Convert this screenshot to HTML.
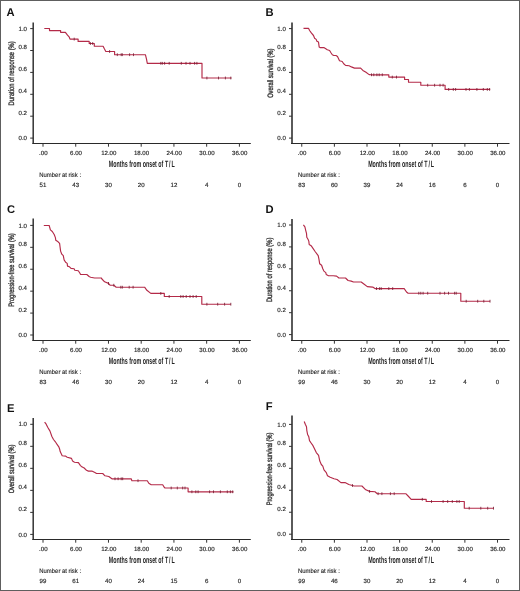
<!DOCTYPE html><html><head><meta charset="utf-8"><style>html,body{margin:0;padding:0;background:#fff;}svg{display:block;will-change:transform;}</style></head><body>
<svg width="520" height="591" viewBox="0 0 520 591" font-family='"Liberation Sans", sans-serif' text-rendering="geometricPrecision">
<rect x="0" y="0" width="520" height="591" fill="#fff"/>
<rect x="0.5" y="0.5" width="519" height="590" fill="none" stroke="#5e5e5e" stroke-width="1"/>
<g><text x="6.6" y="16" font-size="11.2" font-weight="bold" fill="#111">A</text><line x1="33.2" y1="22.4" x2="33.2" y2="144.1" stroke="#333" stroke-width="1.5"/><line x1="32.45" y1="143.5" x2="250.8" y2="143.5" stroke="#2a2a2a" stroke-width="1.2"/><line x1="30.2" y1="28.6" x2="33.2" y2="28.6" stroke="#333" stroke-width="1"/><text x="27" y="30.75" font-size="6.1" fill="#222" stroke="#222" stroke-width="0.14" text-anchor="end">1.0</text><line x1="30.2" y1="50.5" x2="33.2" y2="50.5" stroke="#333" stroke-width="1"/><text x="27" y="49.35" font-size="6.1" fill="#222" stroke="#222" stroke-width="0.14" text-anchor="end">0.8</text><line x1="30.2" y1="72.4" x2="33.2" y2="72.4" stroke="#333" stroke-width="1"/><text x="27" y="71.25" font-size="6.1" fill="#222" stroke="#222" stroke-width="0.14" text-anchor="end">0.6</text><line x1="30.2" y1="94.3" x2="33.2" y2="94.3" stroke="#333" stroke-width="1"/><text x="27" y="93.15" font-size="6.1" fill="#222" stroke="#222" stroke-width="0.14" text-anchor="end">0.4</text><line x1="30.2" y1="116.2" x2="33.2" y2="116.2" stroke="#333" stroke-width="1"/><text x="27" y="115.05" font-size="6.1" fill="#222" stroke="#222" stroke-width="0.14" text-anchor="end">0.2</text><line x1="30.2" y1="138.1" x2="33.2" y2="138.1" stroke="#333" stroke-width="1"/><text x="27" y="140.25" font-size="6.1" fill="#222" stroke="#222" stroke-width="0.14" text-anchor="end">0.0</text><line x1="43" y1="143.5" x2="43" y2="146.7" stroke="#333" stroke-width="1"/><text x="43.3" y="154.9" font-size="6.1" fill="#222" stroke="#222" stroke-width="0.14" text-anchor="middle">.00</text><text x="43" y="187.1" font-size="6.1" fill="#222" stroke="#222" stroke-width="0.14" text-anchor="middle">51</text><line x1="75.73" y1="143.5" x2="75.73" y2="146.7" stroke="#333" stroke-width="1"/><text x="76.03" y="154.9" font-size="6.1" fill="#222" stroke="#222" stroke-width="0.14" text-anchor="middle">6.00</text><text x="75.73" y="187.1" font-size="6.1" fill="#222" stroke="#222" stroke-width="0.14" text-anchor="middle">43</text><line x1="108.47" y1="143.5" x2="108.47" y2="146.7" stroke="#333" stroke-width="1"/><text x="108.77" y="154.9" font-size="6.1" fill="#222" stroke="#222" stroke-width="0.14" text-anchor="middle">12.00</text><text x="108.47" y="187.1" font-size="6.1" fill="#222" stroke="#222" stroke-width="0.14" text-anchor="middle">30</text><line x1="141.2" y1="143.5" x2="141.2" y2="146.7" stroke="#333" stroke-width="1"/><text x="141.5" y="154.9" font-size="6.1" fill="#222" stroke="#222" stroke-width="0.14" text-anchor="middle">18.00</text><text x="141.2" y="187.1" font-size="6.1" fill="#222" stroke="#222" stroke-width="0.14" text-anchor="middle">20</text><line x1="173.93" y1="143.5" x2="173.93" y2="146.7" stroke="#333" stroke-width="1"/><text x="174.23" y="154.9" font-size="6.1" fill="#222" stroke="#222" stroke-width="0.14" text-anchor="middle">24.00</text><text x="173.93" y="187.1" font-size="6.1" fill="#222" stroke="#222" stroke-width="0.14" text-anchor="middle">12</text><line x1="206.67" y1="143.5" x2="206.67" y2="146.7" stroke="#333" stroke-width="1"/><text x="206.97" y="154.9" font-size="6.1" fill="#222" stroke="#222" stroke-width="0.14" text-anchor="middle">30.00</text><text x="206.67" y="187.1" font-size="6.1" fill="#222" stroke="#222" stroke-width="0.14" text-anchor="middle">4</text><line x1="239.4" y1="143.5" x2="239.4" y2="146.7" stroke="#333" stroke-width="1"/><text x="239.7" y="154.9" font-size="6.1" fill="#222" stroke="#222" stroke-width="0.14" text-anchor="middle">36.00</text><text x="239.4" y="187.1" font-size="6.1" fill="#222" stroke="#222" stroke-width="0.14" text-anchor="middle">0</text><text transform="translate(141.8 167.1) scale(0.587 1)" x="0" y="0" font-size="9.1" font-weight="bold" fill="#222" text-anchor="middle">Months from onset of T<tspan dx="1.6">/</tspan><tspan dx="1.6">L</tspan></text><text x="39.3" y="177.3" font-size="6.3" fill="#222" stroke="#222" stroke-width="0.12" textLength="41.8" lengthAdjust="spacingAndGlyphs">Number at risk :</text><text transform="translate(13.6 73.4) rotate(-90)" x="0" y="0" font-size="7.9" fill="#333" stroke="#333" stroke-width="0.35" text-anchor="middle" textLength="64" lengthAdjust="spacingAndGlyphs">Duration of response (%)</text><path d="M44.3,28.5 H49.5 V30.6 H60.6 V32.3 H65.4 L67.5,35.2 L69.3,37.2 L70,39.1 H78.1 V41.4 H89.2 V43.5 H94.3 V46.2 H103.1 L104.5,49.1 L105.8,51.5 H114.6 V54.7 H145.4 L146.5,59.2 L147.3,63.3 H202 V78 H231.5" fill="none" stroke="#b42a48" stroke-width="1.15" stroke-linejoin="round"/><path d="M74.2,37.7V40.5M90.4,42.1V44.9M92.7,42.1V44.9M109.6,50.1V52.9M117.3,53.3V56.1M121.2,53.3V56.1M122.3,53.3V56.1M129.6,53.3V56.1M133.5,53.3V56.1M160.8,61.9V64.7M162.3,61.9V64.7M164.6,61.9V64.7M169.2,61.9V64.7M181.3,61.9V64.7M186,61.9V64.7M190,61.9V64.7M194.6,61.9V64.7M196.9,61.9V64.7M206.9,76.6V79.4M218.5,76.6V79.4M225.4,76.6V79.4M230.8,76.6V79.4" fill="none" stroke="#7a2035" stroke-width="0.85"/></g>
<g><text x="265.4" y="16.4" font-size="11.2" font-weight="bold" fill="#111">B</text><line x1="292" y1="22.4" x2="292" y2="144.1" stroke="#5a5a5a" stroke-width="2"/><line x1="291" y1="143.5" x2="509.5" y2="143.5" stroke="#2a2a2a" stroke-width="1.2"/><line x1="289" y1="28.6" x2="292" y2="28.6" stroke="#333" stroke-width="1"/><text x="285.8" y="30.75" font-size="6.1" fill="#222" stroke="#222" stroke-width="0.14" text-anchor="end">1.0</text><line x1="289" y1="50.5" x2="292" y2="50.5" stroke="#333" stroke-width="1"/><text x="285.8" y="49.35" font-size="6.1" fill="#222" stroke="#222" stroke-width="0.14" text-anchor="end">0.8</text><line x1="289" y1="72.4" x2="292" y2="72.4" stroke="#333" stroke-width="1"/><text x="285.8" y="71.25" font-size="6.1" fill="#222" stroke="#222" stroke-width="0.14" text-anchor="end">0.6</text><line x1="289" y1="94.3" x2="292" y2="94.3" stroke="#333" stroke-width="1"/><text x="285.8" y="93.15" font-size="6.1" fill="#222" stroke="#222" stroke-width="0.14" text-anchor="end">0.4</text><line x1="289" y1="116.2" x2="292" y2="116.2" stroke="#333" stroke-width="1"/><text x="285.8" y="115.05" font-size="6.1" fill="#222" stroke="#222" stroke-width="0.14" text-anchor="end">0.2</text><line x1="289" y1="138.1" x2="292" y2="138.1" stroke="#333" stroke-width="1"/><text x="285.8" y="140.25" font-size="6.1" fill="#222" stroke="#222" stroke-width="0.14" text-anchor="end">0.0</text><line x1="301.75" y1="143.5" x2="301.75" y2="146.7" stroke="#333" stroke-width="1"/><text x="302.05" y="154.9" font-size="6.1" fill="#222" stroke="#222" stroke-width="0.14" text-anchor="middle">.00</text><text x="301.75" y="187.1" font-size="6.1" fill="#222" stroke="#222" stroke-width="0.14" text-anchor="middle">83</text><line x1="334.38" y1="143.5" x2="334.38" y2="146.7" stroke="#333" stroke-width="1"/><text x="334.68" y="154.9" font-size="6.1" fill="#222" stroke="#222" stroke-width="0.14" text-anchor="middle">6.00</text><text x="334.38" y="187.1" font-size="6.1" fill="#222" stroke="#222" stroke-width="0.14" text-anchor="middle">60</text><line x1="367" y1="143.5" x2="367" y2="146.7" stroke="#333" stroke-width="1"/><text x="367.3" y="154.9" font-size="6.1" fill="#222" stroke="#222" stroke-width="0.14" text-anchor="middle">12.00</text><text x="367" y="187.1" font-size="6.1" fill="#222" stroke="#222" stroke-width="0.14" text-anchor="middle">39</text><line x1="399.62" y1="143.5" x2="399.62" y2="146.7" stroke="#333" stroke-width="1"/><text x="399.93" y="154.9" font-size="6.1" fill="#222" stroke="#222" stroke-width="0.14" text-anchor="middle">18.00</text><text x="399.62" y="187.1" font-size="6.1" fill="#222" stroke="#222" stroke-width="0.14" text-anchor="middle">24</text><line x1="432.25" y1="143.5" x2="432.25" y2="146.7" stroke="#333" stroke-width="1"/><text x="432.55" y="154.9" font-size="6.1" fill="#222" stroke="#222" stroke-width="0.14" text-anchor="middle">24.00</text><text x="432.25" y="187.1" font-size="6.1" fill="#222" stroke="#222" stroke-width="0.14" text-anchor="middle">16</text><line x1="464.88" y1="143.5" x2="464.88" y2="146.7" stroke="#333" stroke-width="1"/><text x="465.18" y="154.9" font-size="6.1" fill="#222" stroke="#222" stroke-width="0.14" text-anchor="middle">30.00</text><text x="464.88" y="187.1" font-size="6.1" fill="#222" stroke="#222" stroke-width="0.14" text-anchor="middle">6</text><line x1="497.5" y1="143.5" x2="497.5" y2="146.7" stroke="#333" stroke-width="1"/><text x="497.8" y="154.9" font-size="6.1" fill="#222" stroke="#222" stroke-width="0.14" text-anchor="middle">36.00</text><text x="497.5" y="187.1" font-size="6.1" fill="#222" stroke="#222" stroke-width="0.14" text-anchor="middle">0</text><text transform="translate(401.12 167.1) scale(0.587 1)" x="0" y="0" font-size="9.1" font-weight="bold" fill="#222" text-anchor="middle">Months from onset of T<tspan dx="1.6">/</tspan><tspan dx="1.6">L</tspan></text><text x="298.05" y="177.3" font-size="6.3" fill="#222" stroke="#222" stroke-width="0.12" textLength="41.8" lengthAdjust="spacingAndGlyphs">Number at risk :</text><text transform="translate(272.9 73.2) rotate(-90)" x="0" y="0" font-size="7.9" fill="#333" stroke="#333" stroke-width="0.35" text-anchor="middle" textLength="49.3" lengthAdjust="spacingAndGlyphs">Overall survival (%)</text><path d="M303.5,28.3 H308.5 L309.6,30.5 L311.5,33.2 L313.5,35.5 L314.6,38.2 L316.2,39.4 L316.9,41.3 L318.5,42.1 L319.2,47.1 L320,47.6 H323.8 L325.4,48.6 L327.3,49.8 L329.6,50.5 L330.8,52.5 L332.3,54.8 L333.8,55.5 H336 L337.5,56.5 L339.5,60.8 L342.2,61.5 L343.7,63.8 L345.6,65.4 L349.1,65.8 L351.4,66.9 L354.5,68.1 H360.6 L362.9,70.4 L366,72.3 L369.1,74.6 L371,74.8 H388.8 V77.1 H404.6 V79.5 H408.5 V82.2 H420.8 V85.2 H445.1 V89.4 H490.2" fill="none" stroke="#b42a48" stroke-width="1.15" stroke-linejoin="round"/><path d="M371.5,73.4V76.2M373.8,73.4V76.2M376.9,73.4V76.2M379.2,73.4V76.2M382.3,73.4V76.2M392.3,75.7V78.5M396.5,75.7V78.5M427.7,83.8V86.6M434.6,83.8V86.6M440,83.8V86.6M443.1,83.8V86.6M448.7,88V90.8M453.3,88V90.8M455.6,88V90.8M466,88V90.8M469.4,88V90.8M476.9,88V90.8M483.3,88V90.8M487.3,88V90.8M489.6,88V90.8" fill="none" stroke="#7a2035" stroke-width="0.85"/></g>
<g><text x="7" y="212.8" font-size="11.2" font-weight="bold" fill="#111">C</text><line x1="33.2" y1="218.4" x2="33.2" y2="341.1" stroke="#333" stroke-width="1.5"/><line x1="32.45" y1="340.5" x2="250.8" y2="340.5" stroke="#2a2a2a" stroke-width="1.2"/><line x1="30.2" y1="225.4" x2="33.2" y2="225.4" stroke="#333" stroke-width="1"/><text x="27" y="227.55" font-size="6.1" fill="#222" stroke="#222" stroke-width="0.14" text-anchor="end">1.0</text><line x1="30.2" y1="247.32" x2="33.2" y2="247.32" stroke="#333" stroke-width="1"/><text x="27" y="246.17" font-size="6.1" fill="#222" stroke="#222" stroke-width="0.14" text-anchor="end">0.8</text><line x1="30.2" y1="269.24" x2="33.2" y2="269.24" stroke="#333" stroke-width="1"/><text x="27" y="268.09" font-size="6.1" fill="#222" stroke="#222" stroke-width="0.14" text-anchor="end">0.6</text><line x1="30.2" y1="291.16" x2="33.2" y2="291.16" stroke="#333" stroke-width="1"/><text x="27" y="290.01" font-size="6.1" fill="#222" stroke="#222" stroke-width="0.14" text-anchor="end">0.4</text><line x1="30.2" y1="313.08" x2="33.2" y2="313.08" stroke="#333" stroke-width="1"/><text x="27" y="311.93" font-size="6.1" fill="#222" stroke="#222" stroke-width="0.14" text-anchor="end">0.2</text><line x1="30.2" y1="335" x2="33.2" y2="335" stroke="#333" stroke-width="1"/><text x="27" y="337.15" font-size="6.1" fill="#222" stroke="#222" stroke-width="0.14" text-anchor="end">0.0</text><line x1="43" y1="340.5" x2="43" y2="343.7" stroke="#333" stroke-width="1"/><text x="43.3" y="351.9" font-size="6.1" fill="#222" stroke="#222" stroke-width="0.14" text-anchor="middle">.00</text><text x="43" y="384.1" font-size="6.1" fill="#222" stroke="#222" stroke-width="0.14" text-anchor="middle">83</text><line x1="75.73" y1="340.5" x2="75.73" y2="343.7" stroke="#333" stroke-width="1"/><text x="76.03" y="351.9" font-size="6.1" fill="#222" stroke="#222" stroke-width="0.14" text-anchor="middle">6.00</text><text x="75.73" y="384.1" font-size="6.1" fill="#222" stroke="#222" stroke-width="0.14" text-anchor="middle">46</text><line x1="108.47" y1="340.5" x2="108.47" y2="343.7" stroke="#333" stroke-width="1"/><text x="108.77" y="351.9" font-size="6.1" fill="#222" stroke="#222" stroke-width="0.14" text-anchor="middle">12.00</text><text x="108.47" y="384.1" font-size="6.1" fill="#222" stroke="#222" stroke-width="0.14" text-anchor="middle">30</text><line x1="141.2" y1="340.5" x2="141.2" y2="343.7" stroke="#333" stroke-width="1"/><text x="141.5" y="351.9" font-size="6.1" fill="#222" stroke="#222" stroke-width="0.14" text-anchor="middle">18.00</text><text x="141.2" y="384.1" font-size="6.1" fill="#222" stroke="#222" stroke-width="0.14" text-anchor="middle">20</text><line x1="173.93" y1="340.5" x2="173.93" y2="343.7" stroke="#333" stroke-width="1"/><text x="174.23" y="351.9" font-size="6.1" fill="#222" stroke="#222" stroke-width="0.14" text-anchor="middle">24.00</text><text x="173.93" y="384.1" font-size="6.1" fill="#222" stroke="#222" stroke-width="0.14" text-anchor="middle">12</text><line x1="206.67" y1="340.5" x2="206.67" y2="343.7" stroke="#333" stroke-width="1"/><text x="206.97" y="351.9" font-size="6.1" fill="#222" stroke="#222" stroke-width="0.14" text-anchor="middle">30.00</text><text x="206.67" y="384.1" font-size="6.1" fill="#222" stroke="#222" stroke-width="0.14" text-anchor="middle">4</text><line x1="239.4" y1="340.5" x2="239.4" y2="343.7" stroke="#333" stroke-width="1"/><text x="239.7" y="351.9" font-size="6.1" fill="#222" stroke="#222" stroke-width="0.14" text-anchor="middle">36.00</text><text x="239.4" y="384.1" font-size="6.1" fill="#222" stroke="#222" stroke-width="0.14" text-anchor="middle">0</text><text transform="translate(141.8 364.1) scale(0.587 1)" x="0" y="0" font-size="9.1" font-weight="bold" fill="#222" text-anchor="middle">Months from onset of T<tspan dx="1.6">/</tspan><tspan dx="1.6">L</tspan></text><text x="39.3" y="374.3" font-size="6.3" fill="#222" stroke="#222" stroke-width="0.12" textLength="41.8" lengthAdjust="spacingAndGlyphs">Number at risk :</text><text transform="translate(13.5 270) rotate(-90)" x="0" y="0" font-size="7.9" fill="#333" stroke="#333" stroke-width="0.35" text-anchor="middle" textLength="73.5" lengthAdjust="spacingAndGlyphs">Progression-free survival (%)</text><path d="M43.8,225.5 H49.2 L50.4,229.9 L52.3,231.5 L54.2,234.5 L55.4,237.6 L55.8,240.3 L58.1,241.8 L59.6,243.4 L60,246.5 L60.6,251.1 L61.8,254.2 L63.3,255.7 L64.1,259.9 L65.6,262.2 L67.2,263.4 L67.5,266.1 L69.5,266.8 L71,268.4 L74.1,268.8 L74.8,270.3 L78.3,270.7 L79.8,273 L80.6,274.5 H86.8 L89.1,276.5 L90.6,277.2 L94.6,278 H101.5 V278.5 L104.6,281.8 L108.5,283.4 L110,285.2 H113.8 L116.2,287.2 H144.6 L146.9,290.3 L150.8,293.4 H164.3 V296.5 H201.8 V304.2 H230.8" fill="none" stroke="#b42a48" stroke-width="1.15" stroke-linejoin="round"/><path d="M108.5,282V284.8M113.8,283.8V286.6M120.8,285.8V288.6M122.3,285.8V288.6M129.2,285.8V288.6M133.1,285.8V288.6M160.8,292V294.8M169.2,295.1V297.9M180.8,295.1V297.9M183.1,295.1V297.9M186.2,295.1V297.9M190,295.1V297.9M193.1,295.1V297.9M196.2,295.1V297.9M206.9,302.8V305.6M217.7,302.8V305.6M224.6,302.8V305.6M230.8,302.8V305.6" fill="none" stroke="#7a2035" stroke-width="0.85"/></g>
<g><text x="265.4" y="212.8" font-size="11.2" font-weight="bold" fill="#111">D</text><line x1="292" y1="218.9" x2="292" y2="341.1" stroke="#5a5a5a" stroke-width="2"/><line x1="291" y1="340.5" x2="509.5" y2="340.5" stroke="#2a2a2a" stroke-width="1.2"/><line x1="289" y1="225" x2="292" y2="225" stroke="#333" stroke-width="1"/><text x="285.8" y="227.15" font-size="6.1" fill="#222" stroke="#222" stroke-width="0.14" text-anchor="end">1.0</text><line x1="289" y1="246.92" x2="292" y2="246.92" stroke="#333" stroke-width="1"/><text x="285.8" y="245.77" font-size="6.1" fill="#222" stroke="#222" stroke-width="0.14" text-anchor="end">0.8</text><line x1="289" y1="268.84" x2="292" y2="268.84" stroke="#333" stroke-width="1"/><text x="285.8" y="267.69" font-size="6.1" fill="#222" stroke="#222" stroke-width="0.14" text-anchor="end">0.6</text><line x1="289" y1="290.76" x2="292" y2="290.76" stroke="#333" stroke-width="1"/><text x="285.8" y="289.61" font-size="6.1" fill="#222" stroke="#222" stroke-width="0.14" text-anchor="end">0.4</text><line x1="289" y1="312.68" x2="292" y2="312.68" stroke="#333" stroke-width="1"/><text x="285.8" y="311.53" font-size="6.1" fill="#222" stroke="#222" stroke-width="0.14" text-anchor="end">0.2</text><line x1="289" y1="334.6" x2="292" y2="334.6" stroke="#333" stroke-width="1"/><text x="285.8" y="336.75" font-size="6.1" fill="#222" stroke="#222" stroke-width="0.14" text-anchor="end">0.0</text><line x1="301.75" y1="340.5" x2="301.75" y2="343.7" stroke="#333" stroke-width="1"/><text x="302.05" y="351.9" font-size="6.1" fill="#222" stroke="#222" stroke-width="0.14" text-anchor="middle">.00</text><text x="301.75" y="384.1" font-size="6.1" fill="#222" stroke="#222" stroke-width="0.14" text-anchor="middle">99</text><line x1="334.38" y1="340.5" x2="334.38" y2="343.7" stroke="#333" stroke-width="1"/><text x="334.68" y="351.9" font-size="6.1" fill="#222" stroke="#222" stroke-width="0.14" text-anchor="middle">6.00</text><text x="334.38" y="384.1" font-size="6.1" fill="#222" stroke="#222" stroke-width="0.14" text-anchor="middle">46</text><line x1="367" y1="340.5" x2="367" y2="343.7" stroke="#333" stroke-width="1"/><text x="367.3" y="351.9" font-size="6.1" fill="#222" stroke="#222" stroke-width="0.14" text-anchor="middle">12.00</text><text x="367" y="384.1" font-size="6.1" fill="#222" stroke="#222" stroke-width="0.14" text-anchor="middle">30</text><line x1="399.62" y1="340.5" x2="399.62" y2="343.7" stroke="#333" stroke-width="1"/><text x="399.93" y="351.9" font-size="6.1" fill="#222" stroke="#222" stroke-width="0.14" text-anchor="middle">18.00</text><text x="399.62" y="384.1" font-size="6.1" fill="#222" stroke="#222" stroke-width="0.14" text-anchor="middle">20</text><line x1="432.25" y1="340.5" x2="432.25" y2="343.7" stroke="#333" stroke-width="1"/><text x="432.55" y="351.9" font-size="6.1" fill="#222" stroke="#222" stroke-width="0.14" text-anchor="middle">24.00</text><text x="432.25" y="384.1" font-size="6.1" fill="#222" stroke="#222" stroke-width="0.14" text-anchor="middle">12</text><line x1="464.88" y1="340.5" x2="464.88" y2="343.7" stroke="#333" stroke-width="1"/><text x="465.18" y="351.9" font-size="6.1" fill="#222" stroke="#222" stroke-width="0.14" text-anchor="middle">30.00</text><text x="464.88" y="384.1" font-size="6.1" fill="#222" stroke="#222" stroke-width="0.14" text-anchor="middle">4</text><line x1="497.5" y1="340.5" x2="497.5" y2="343.7" stroke="#333" stroke-width="1"/><text x="497.8" y="351.9" font-size="6.1" fill="#222" stroke="#222" stroke-width="0.14" text-anchor="middle">36.00</text><text x="497.5" y="384.1" font-size="6.1" fill="#222" stroke="#222" stroke-width="0.14" text-anchor="middle">0</text><text transform="translate(401.12 364.1) scale(0.587 1)" x="0" y="0" font-size="9.1" font-weight="bold" fill="#222" text-anchor="middle">Months from onset of T<tspan dx="1.6">/</tspan><tspan dx="1.6">L</tspan></text><text x="298.05" y="374.3" font-size="6.3" fill="#222" stroke="#222" stroke-width="0.12" textLength="41.8" lengthAdjust="spacingAndGlyphs">Number at risk :</text><text transform="translate(272.1 269.9) rotate(-90)" x="0" y="0" font-size="7.9" fill="#333" stroke="#333" stroke-width="0.35" text-anchor="middle" textLength="64.4" lengthAdjust="spacingAndGlyphs">Duration of response (%)</text><path d="M303.4,224.9 L304.9,226.8 L305.7,230.3 L306.5,233.4 L306.8,237.2 L308,239.2 L308.8,241.1 L309.2,244.5 L311.1,245.7 L313,248.4 L315.1,251.5 L318.2,255.7 L318.9,258.8 L319.7,263.8 L321.6,265.3 L322.8,268.8 L323.9,271.1 L325.8,272.6 L326.2,274.5 L328.5,275.7 H333.2 L336.6,276.1 L338.9,278 H345.5 L348.1,280.5 L351.2,281.1 L353.5,282 H361.2 L364.2,284.3 L367.3,286.6 L372.7,287.1 L375,288.6 H404.2 L406.5,292 L408.1,293.2 H460.8 V301.2 H490" fill="none" stroke="#b42a48" stroke-width="1.15" stroke-linejoin="round"/><path d="M376.5,287.2V290M379.6,287.2V290M381.2,287.2V290M388.8,287.2V290M392.7,287.2V290M418.8,291.8V294.6M420.8,291.8V294.6M423.1,291.8V294.6M427.7,291.8V294.6M440,291.8V294.6M444.6,291.8V294.6M448.5,291.8V294.6M454.6,291.8V294.6M456.2,291.8V294.6M466.2,299.8V302.6M477.7,299.8V302.6M483.8,299.8V302.6M490,299.8V302.6" fill="none" stroke="#7a2035" stroke-width="0.85"/></g>
<g><text x="7" y="412.1" font-size="11.2" font-weight="bold" fill="#111">E</text><line x1="33.2" y1="417.9" x2="33.2" y2="540.1" stroke="#333" stroke-width="1.5"/><line x1="32.45" y1="539.5" x2="250.8" y2="539.5" stroke="#2a2a2a" stroke-width="1.2"/><line x1="30.2" y1="424.3" x2="33.2" y2="424.3" stroke="#333" stroke-width="1"/><text x="27" y="426.45" font-size="6.1" fill="#222" stroke="#222" stroke-width="0.14" text-anchor="end">1.0</text><line x1="30.2" y1="446.32" x2="33.2" y2="446.32" stroke="#333" stroke-width="1"/><text x="27" y="445.17" font-size="6.1" fill="#222" stroke="#222" stroke-width="0.14" text-anchor="end">0.8</text><line x1="30.2" y1="468.34" x2="33.2" y2="468.34" stroke="#333" stroke-width="1"/><text x="27" y="467.19" font-size="6.1" fill="#222" stroke="#222" stroke-width="0.14" text-anchor="end">0.6</text><line x1="30.2" y1="490.36" x2="33.2" y2="490.36" stroke="#333" stroke-width="1"/><text x="27" y="489.21" font-size="6.1" fill="#222" stroke="#222" stroke-width="0.14" text-anchor="end">0.4</text><line x1="30.2" y1="512.38" x2="33.2" y2="512.38" stroke="#333" stroke-width="1"/><text x="27" y="511.23" font-size="6.1" fill="#222" stroke="#222" stroke-width="0.14" text-anchor="end">0.2</text><line x1="30.2" y1="534.4" x2="33.2" y2="534.4" stroke="#333" stroke-width="1"/><text x="27" y="536.55" font-size="6.1" fill="#222" stroke="#222" stroke-width="0.14" text-anchor="end">0.0</text><line x1="43" y1="539.5" x2="43" y2="542.7" stroke="#333" stroke-width="1"/><text x="43.3" y="550.9" font-size="6.1" fill="#222" stroke="#222" stroke-width="0.14" text-anchor="middle">.00</text><text x="43" y="583.1" font-size="6.1" fill="#222" stroke="#222" stroke-width="0.14" text-anchor="middle">99</text><line x1="75.73" y1="539.5" x2="75.73" y2="542.7" stroke="#333" stroke-width="1"/><text x="76.03" y="550.9" font-size="6.1" fill="#222" stroke="#222" stroke-width="0.14" text-anchor="middle">6.00</text><text x="75.73" y="583.1" font-size="6.1" fill="#222" stroke="#222" stroke-width="0.14" text-anchor="middle">61</text><line x1="108.47" y1="539.5" x2="108.47" y2="542.7" stroke="#333" stroke-width="1"/><text x="108.77" y="550.9" font-size="6.1" fill="#222" stroke="#222" stroke-width="0.14" text-anchor="middle">12.00</text><text x="108.47" y="583.1" font-size="6.1" fill="#222" stroke="#222" stroke-width="0.14" text-anchor="middle">40</text><line x1="141.2" y1="539.5" x2="141.2" y2="542.7" stroke="#333" stroke-width="1"/><text x="141.5" y="550.9" font-size="6.1" fill="#222" stroke="#222" stroke-width="0.14" text-anchor="middle">18.00</text><text x="141.2" y="583.1" font-size="6.1" fill="#222" stroke="#222" stroke-width="0.14" text-anchor="middle">24</text><line x1="173.93" y1="539.5" x2="173.93" y2="542.7" stroke="#333" stroke-width="1"/><text x="174.23" y="550.9" font-size="6.1" fill="#222" stroke="#222" stroke-width="0.14" text-anchor="middle">24.00</text><text x="173.93" y="583.1" font-size="6.1" fill="#222" stroke="#222" stroke-width="0.14" text-anchor="middle">15</text><line x1="206.67" y1="539.5" x2="206.67" y2="542.7" stroke="#333" stroke-width="1"/><text x="206.97" y="550.9" font-size="6.1" fill="#222" stroke="#222" stroke-width="0.14" text-anchor="middle">30.00</text><text x="206.67" y="583.1" font-size="6.1" fill="#222" stroke="#222" stroke-width="0.14" text-anchor="middle">6</text><line x1="239.4" y1="539.5" x2="239.4" y2="542.7" stroke="#333" stroke-width="1"/><text x="239.7" y="550.9" font-size="6.1" fill="#222" stroke="#222" stroke-width="0.14" text-anchor="middle">36.00</text><text x="239.4" y="583.1" font-size="6.1" fill="#222" stroke="#222" stroke-width="0.14" text-anchor="middle">0</text><text transform="translate(141.8 563.1) scale(0.587 1)" x="0" y="0" font-size="9.1" font-weight="bold" fill="#222" text-anchor="middle">Months from onset of T<tspan dx="1.6">/</tspan><tspan dx="1.6">L</tspan></text><text x="39.3" y="573.3" font-size="6.3" fill="#222" stroke="#222" stroke-width="0.12" textLength="41.8" lengthAdjust="spacingAndGlyphs">Number at risk :</text><text transform="translate(13.9 469) rotate(-90)" x="0" y="0" font-size="7.9" fill="#333" stroke="#333" stroke-width="0.35" text-anchor="middle" textLength="48.7" lengthAdjust="spacingAndGlyphs">Overall survival (%)</text><path d="M44.6,422.2 L46.2,424.2 L47.7,427.2 L50,431.1 L51.9,436.5 L53.5,439.5 L55.4,441.8 L56.9,444.2 L58.8,446.8 L59.6,449 L60.3,451.8 L62.2,455.7 L65.7,456.1 L67.2,457.2 L71.5,458.4 L72.6,461.1 L74.5,462.2 L78.4,462.6 L80.3,465.3 L81.8,466.8 L84.2,468 L86.5,470.3 L88.4,471.1 H91.8 L94.9,472.6 L96.5,473.5 H102.7 L105,475.8 L108.8,476.5 L111.9,478.8 H131.2 L131.9,480.7 H147.3 L148.8,483.2 L151.2,484.7 H162.7 L164.2,487.3 L165,488 H188.1 V491.8 H233.5" fill="none" stroke="#b42a48" stroke-width="1.15" stroke-linejoin="round"/><path d="M115,477.4V480.2M118.1,477.4V480.2M121.2,477.4V480.2M122.7,477.4V480.2M138,479.3V482.1M171.2,486.6V489.4M177.3,486.6V489.4M182.7,486.6V489.4M185,486.6V489.4M191.9,490.4V493.2M195.8,490.4V493.2M198.1,490.4V493.2M209.6,490.4V493.2M213.5,490.4V493.2M220.4,490.4V493.2M227.3,490.4V493.2M230.4,490.4V493.2M232.7,490.4V493.2" fill="none" stroke="#7a2035" stroke-width="0.85"/></g>
<g><text x="265.8" y="409.5" font-size="11.2" font-weight="bold" fill="#111">F</text><line x1="292" y1="415.6" x2="292" y2="540.1" stroke="#5a5a5a" stroke-width="2"/><line x1="291" y1="539.5" x2="509.5" y2="539.5" stroke="#2a2a2a" stroke-width="1.2"/><line x1="289" y1="424.4" x2="292" y2="424.4" stroke="#333" stroke-width="1"/><text x="285.8" y="426.55" font-size="6.1" fill="#222" stroke="#222" stroke-width="0.14" text-anchor="end">1.0</text><line x1="289" y1="446.36" x2="292" y2="446.36" stroke="#333" stroke-width="1"/><text x="285.8" y="445.21" font-size="6.1" fill="#222" stroke="#222" stroke-width="0.14" text-anchor="end">0.8</text><line x1="289" y1="468.32" x2="292" y2="468.32" stroke="#333" stroke-width="1"/><text x="285.8" y="467.17" font-size="6.1" fill="#222" stroke="#222" stroke-width="0.14" text-anchor="end">0.6</text><line x1="289" y1="490.28" x2="292" y2="490.28" stroke="#333" stroke-width="1"/><text x="285.8" y="489.13" font-size="6.1" fill="#222" stroke="#222" stroke-width="0.14" text-anchor="end">0.4</text><line x1="289" y1="512.24" x2="292" y2="512.24" stroke="#333" stroke-width="1"/><text x="285.8" y="511.09" font-size="6.1" fill="#222" stroke="#222" stroke-width="0.14" text-anchor="end">0.2</text><line x1="289" y1="534.2" x2="292" y2="534.2" stroke="#333" stroke-width="1"/><text x="285.8" y="536.35" font-size="6.1" fill="#222" stroke="#222" stroke-width="0.14" text-anchor="end">0.0</text><line x1="301.75" y1="539.5" x2="301.75" y2="542.7" stroke="#333" stroke-width="1"/><text x="302.05" y="550.9" font-size="6.1" fill="#222" stroke="#222" stroke-width="0.14" text-anchor="middle">.00</text><text x="301.75" y="583.1" font-size="6.1" fill="#222" stroke="#222" stroke-width="0.14" text-anchor="middle">99</text><line x1="334.38" y1="539.5" x2="334.38" y2="542.7" stroke="#333" stroke-width="1"/><text x="334.68" y="550.9" font-size="6.1" fill="#222" stroke="#222" stroke-width="0.14" text-anchor="middle">6.00</text><text x="334.38" y="583.1" font-size="6.1" fill="#222" stroke="#222" stroke-width="0.14" text-anchor="middle">46</text><line x1="367" y1="539.5" x2="367" y2="542.7" stroke="#333" stroke-width="1"/><text x="367.3" y="550.9" font-size="6.1" fill="#222" stroke="#222" stroke-width="0.14" text-anchor="middle">12.00</text><text x="367" y="583.1" font-size="6.1" fill="#222" stroke="#222" stroke-width="0.14" text-anchor="middle">30</text><line x1="399.62" y1="539.5" x2="399.62" y2="542.7" stroke="#333" stroke-width="1"/><text x="399.93" y="550.9" font-size="6.1" fill="#222" stroke="#222" stroke-width="0.14" text-anchor="middle">18.00</text><text x="399.62" y="583.1" font-size="6.1" fill="#222" stroke="#222" stroke-width="0.14" text-anchor="middle">20</text><line x1="432.25" y1="539.5" x2="432.25" y2="542.7" stroke="#333" stroke-width="1"/><text x="432.55" y="550.9" font-size="6.1" fill="#222" stroke="#222" stroke-width="0.14" text-anchor="middle">24.00</text><text x="432.25" y="583.1" font-size="6.1" fill="#222" stroke="#222" stroke-width="0.14" text-anchor="middle">12</text><line x1="464.88" y1="539.5" x2="464.88" y2="542.7" stroke="#333" stroke-width="1"/><text x="465.18" y="550.9" font-size="6.1" fill="#222" stroke="#222" stroke-width="0.14" text-anchor="middle">30.00</text><text x="464.88" y="583.1" font-size="6.1" fill="#222" stroke="#222" stroke-width="0.14" text-anchor="middle">4</text><line x1="497.5" y1="539.5" x2="497.5" y2="542.7" stroke="#333" stroke-width="1"/><text x="497.8" y="550.9" font-size="6.1" fill="#222" stroke="#222" stroke-width="0.14" text-anchor="middle">36.00</text><text x="497.5" y="583.1" font-size="6.1" fill="#222" stroke="#222" stroke-width="0.14" text-anchor="middle">0</text><text transform="translate(401.12 563.1) scale(0.587 1)" x="0" y="0" font-size="9.1" font-weight="bold" fill="#222" text-anchor="middle">Months from onset of T<tspan dx="1.6">/</tspan><tspan dx="1.6">L</tspan></text><text x="298.05" y="573.3" font-size="6.3" fill="#222" stroke="#222" stroke-width="0.12" textLength="41.8" lengthAdjust="spacingAndGlyphs">Number at risk :</text><text transform="translate(272 469) rotate(-90)" x="0" y="0" font-size="7.9" fill="#333" stroke="#333" stroke-width="0.35" text-anchor="middle" textLength="72.7" lengthAdjust="spacingAndGlyphs">Progression-free survival (%)</text><path d="M304.2,421.5 L305.3,424.2 L306.5,426.8 L306.8,430.3 L307.6,434.5 L308.8,436.8 L309.5,440.7 L311.1,443 L313,445.7 L314.5,448.8 L316.3,452.6 L318.6,455.3 L319.8,461.1 L321.3,464.5 L322.8,466.1 L324,469.9 L326.3,472.6 L327.5,475.7 L330.2,477.2 L334,478.8 L337.1,479.5 L340.9,482.6 H345 L348.8,484.5 L354.2,486 H361.9 L365.8,489.8 L369.6,491.4 L375,491.7 L377.3,493.7 H405.8 L408.1,496 L411.2,499.3 H426.2 V501.5 H464.3 V508.2 H493.5" fill="none" stroke="#b42a48" stroke-width="1.15" stroke-linejoin="round"/><path d="M352.5,484.13V486.93M369.6,490V492.8M378.1,492.3V495.1M381.9,492.3V495.1M390.4,492.3V495.1M394.2,492.3V495.1M422.3,497.9V500.7M431.5,500.1V502.9M443.1,500.1V502.9M447.7,500.1V502.9M452.3,500.1V502.9M456.9,500.1V502.9M459.2,500.1V502.9M469.2,506.8V509.6M480.8,506.8V509.6M487.7,506.8V509.6M493.5,506.8V509.6" fill="none" stroke="#7a2035" stroke-width="0.85"/></g>
</svg></body></html>
